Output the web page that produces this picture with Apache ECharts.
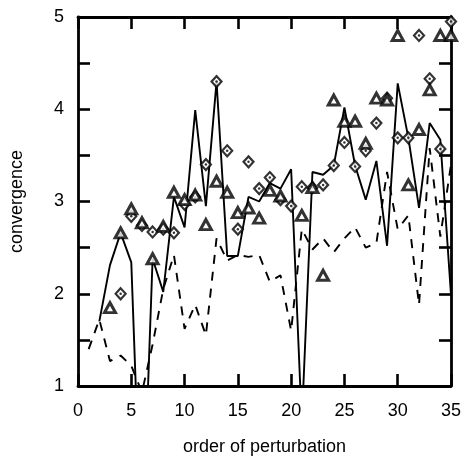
<!DOCTYPE html>
<html>
<head>
<meta charset="utf-8">
<script src="https://cdn.jsdelivr.net/npm/echarts@6/dist/echarts.min.js"></script>
<style>
html,body{margin:0;padding:0;background:#fff;}
#c{width:464px;height:461px;}
</style>
</head>
<body>
<div id="c"></div>
<script>
// x positions (order of perturbation)
const orders = [1,2,3,4,5,6,7,8,9,10,11,12,13,14,15,16,17,18,19,20,21,22,23,24,25,26,27,28,29,30,31,32,33,34,35];
// solid line
const solidVals = [null,1.70,2.31,2.66,2.34,-0.85,2.38,2.02,3.05,2.72,3.99,2.95,4.30,2.41,2.41,3.05,3.00,3.20,3.14,3.35,0.60,3.32,3.29,3.39,4.02,3.39,3.02,3.44,2.52,4.28,3.69,2.93,3.85,3.67,1.99];
// dashed line
const dashedVals = [1.40,1.72,1.27,1.33,1.22,0.93,1.45,2.05,2.42,1.62,1.88,1.55,2.60,2.36,2.42,2.40,2.42,2.13,2.20,1.60,2.70,2.48,2.60,2.45,2.60,2.72,2.50,2.55,3.32,2.70,2.85,1.88,3.58,2.62,3.40];
// diamond markers
const diamondVals = [null,null,null,2.00,2.84,2.74,2.67,2.70,2.66,2.97,3.05,3.40,4.30,3.55,2.70,3.43,3.14,3.26,3.02,2.95,3.16,3.15,3.18,3.39,3.64,3.38,3.55,3.85,4.12,3.69,3.69,4.80,4.33,3.57,4.95];
// triangle markers
const triangleVals = [null,null,1.85,2.66,2.92,2.77,2.38,2.73,3.10,3.02,3.07,2.75,3.22,3.10,2.88,2.93,2.82,3.12,3.06,null,2.85,3.15,2.20,4.10,3.87,3.87,3.63,4.12,4.10,4.80,3.18,3.78,4.21,4.80,4.80];
const xTicks = [0,5,10,15,20,25,30,35];
const yTicks = [1,2,3,4,5];

function pairs(vals){
  const out=[];
  vals.forEach((v,i)=>{ if(v!==null) out.push([orders[i],v]); });
  return out;
}
function pairsLine(vals){
  return vals.map((v,i)=>[orders[i],v]);
}

const FONT = 'Liberation Sans, Arial, Helvetica, sans-serif';
const axisLineStyle = {color:'#000', width:2.8};
const tickStyle = {show:true, inside:true, length:12, lineStyle:{color:'#000', width:2.6}};

const chart = echarts.init(document.getElementById('c'), null, {renderer:'canvas'});
chart.setOption({
  animation:false,
  backgroundColor:'#fff',
  grid:{left:77, right:11, top:17, bottom:68},
  xAxis:[
    {type:'value', min:xTicks[0], max:xTicks[xTicks.length-1], interval:5, position:'bottom',
     name:'order of perturbation', nameLocation:'middle', nameGap:52,
     nameTextStyle:{fontSize:18, color:'#000', fontFamily:FONT},
     axisLine:{show:true, onZero:false, lineStyle:axisLineStyle},
     axisTick:tickStyle, splitLine:{show:false},
     axisLabel:{fontSize:18, color:'#000', fontFamily:FONT, margin:16}},
    {type:'value', min:xTicks[0], max:xTicks[xTicks.length-1], interval:5, position:'top',
     axisLine:{show:true, onZero:false, lineStyle:axisLineStyle},
     axisTick:tickStyle, splitLine:{show:false}, axisLabel:{show:false}}
  ],
  yAxis:[
    {type:'value', min:yTicks[0], max:yTicks[yTicks.length-1], interval:0.5, position:'left',
     name:'convergence', nameLocation:'middle', nameGap:52, nameRotate:90,
     nameTextStyle:{fontSize:18, color:'#000', fontFamily:FONT},
     axisLine:{show:true, onZero:false, lineStyle:axisLineStyle},
     axisTick:tickStyle, splitLine:{show:false},
     axisLabel:{fontSize:18, color:'#000', fontFamily:FONT, margin:14,
       formatter:(v)=> yTicks.indexOf(v)>=0 ? String(v) : ''}},
    {type:'value', min:yTicks[0], max:yTicks[yTicks.length-1], interval:0.5, position:'right',
     axisLine:{show:true, onZero:false, lineStyle:axisLineStyle},
     axisTick:tickStyle, splitLine:{show:false}, axisLabel:{show:false}}
  ],
  series:[
    {type:'line', data:pairsLine(dashedVals), showSymbol:false, symbol:'none', clip:true,
     lineStyle:{color:'#000', width:1.9, type:[9,8]}, z:2},
    {type:'line', data:pairsLine(solidVals), showSymbol:false, symbol:'none', clip:true, connectNulls:false,
     lineStyle:{color:'#000', width:1.9}, z:3},
    {type:'scatter', data:pairs(diamondVals), symbol:'diamond', symbolSize:[10,11],
     itemStyle:{color:'#fff', borderColor:'#000', borderWidth:2.2}, z:4},
    {type:'scatter', data:pairs(diamondVals), symbol:'circle', symbolSize:2.5,
     itemStyle:{color:'#000', borderWidth:0}, z:5},
    {type:'scatter', data:pairs(triangleVals), symbol:'triangle', symbolSize:[11,10],
     itemStyle:{color:'#fff', borderColor:'#000', borderWidth:3}, z:6}
  ]
});
</script>
</body>
</html>
